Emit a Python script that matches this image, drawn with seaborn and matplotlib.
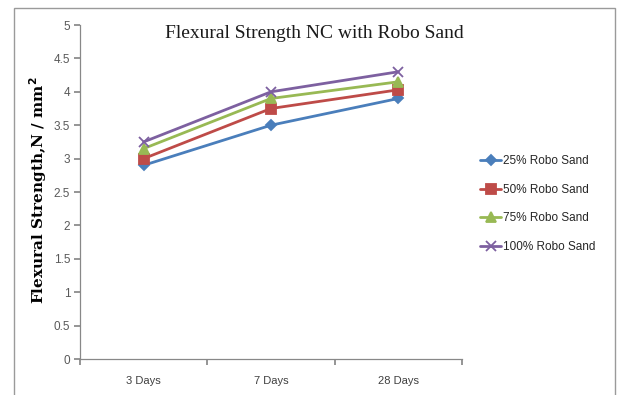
import matplotlib
matplotlib.use("Agg")
import matplotlib.pyplot as plt
from matplotlib.patches import Rectangle
import seaborn as sns
import pandas as pd

ages = ["3 Days", "7 Days", "28 Days"]
series_names = ["25% Robo Sand", "50% Robo Sand", "75% Robo Sand", "100% Robo Sand"]
sand_25 = [2.90, 3.50, 3.90]
sand_50 = [3.00, 3.75, 4.03]
sand_75 = [3.15, 3.90, 4.15]
sand_100 = [3.25, 4.00, 4.30]
y_ticks = [0, 0.5, 1, 1.5, 2, 2.5, 3, 3.5, 4, 4.5, 5]

colors = ["#4A7EBB", "#BE4B48", "#98B954", "#7D60A0"]
markers = ["D", "s", "^", "x"]
sizes = [5, 7, 7, 7]

sns.set_theme(style="white")
plt.rcParams["font.family"] = ["Liberation Sans", "DejaVu Sans"]

fig = plt.figure(figsize=(6.18, 3.95), dpi=100)
ax = fig.add_axes([0.1294, 0.0911, 0.6182, 0.8456])

for name, vals, c, m, ms in zip(series_names, [sand_25, sand_50, sand_75, sand_100],
                                colors, markers, sizes):
    df = pd.DataFrame({"pos": range(len(ages)), "value": vals})
    sns.lineplot(data=df, x="pos", y="value", color=c, marker=m, markersize=ms,
                 markeredgewidth=1.3, markeredgecolor=c, linewidth=2.0,
                 label=name, ax=ax)

ax.set_xlim(-0.5, 2.5)
ax.set_ylim(0, 5)
ax.set_yticks(y_ticks)
ax.set_yticklabels([f"{t:g}" for t in y_ticks], fontsize=8.5, color="#595959")
ax.set_xticks([-0.5, 0.5, 1.5, 2.5])
ax.set_xticklabels([])
ax.set_xticks([0, 1, 2], minor=True)
ax.set_xticklabels(ages, minor=True, fontsize=8, color="#404040")
ax.tick_params(axis="x", which="minor", length=0, pad=12)
ax.tick_params(axis="x", which="major", length=4, color="#888888", direction="out", bottom=True)
ax.tick_params(axis="y", length=4, color="#888888", direction="out", left=True, pad=3)
ax.set_xlabel("")
ax.set_ylabel("Flexural Strength,N / mm$^\\mathbf{2}$", fontsize=11, fontweight="bold",
              family=["DejaVu Serif"], color="black")
ax.yaxis.set_label_coords(-0.082, 0.505)

for side in ["top", "right"]:
    ax.spines[side].set_visible(False)
for side in ["left", "bottom"]:
    ax.spines[side].set_color("#888888")
    ax.spines[side].set_linewidth(0.9)

ax.text(0.613, 1.0, "Flexural Strength NC with Robo Sand", transform=ax.transAxes,
        ha="center", va="top", fontsize=14,
        family=["Liberation Serif", "DejaVu Serif"], color="#1a1a1a")

handles, labels = ax.get_legend_handles_labels()
ax.legend(handles, labels, loc="center left", bbox_to_anchor=(1.035, 0.464),
          frameon=False, fontsize=8.5, labelspacing=1.42, handlelength=1.8,
          handletextpad=0.1, borderaxespad=0)

fig.patches.append(Rectangle((0.0227, -0.05), 0.972, 1.03, transform=fig.transFigure,
                             fill=False, edgecolor="#9a9a9a", linewidth=1.0))

fig.savefig("out.png", dpi=100)
